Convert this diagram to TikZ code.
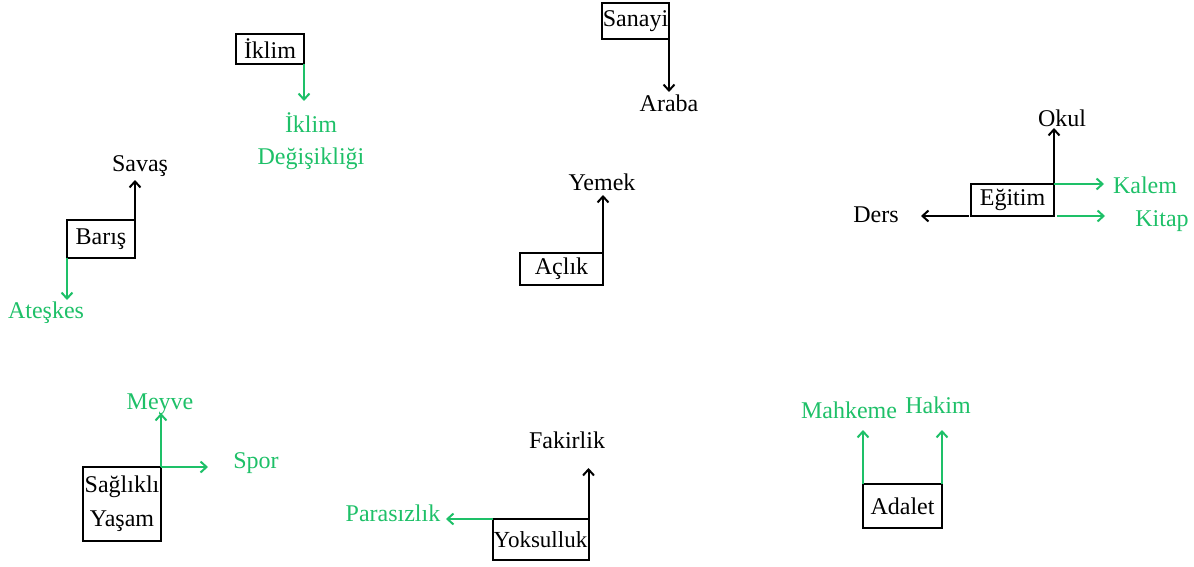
\documentclass[tikz,border=0pt]{standalone}
\usepackage{fontspec}
\setmainfont{Liberation Serif}
\usetikzlibrary{arrows.meta}
\definecolor{grn}{RGB}{30,192,104}
\begin{document}
\begin{tikzpicture}[x=0.5pt,y=-0.5pt,
  box/.style={draw=black,line width=1pt,inner sep=0pt,outer sep=0pt,font=\fontsize{12}{14}\selectfont},
  lbl/.style={inner sep=0pt,font=\fontsize{12}{14}\selectfont},
  glbl/.style={lbl,text=grn},
  blk/.style={draw=black,line width=1pt,-{Straight Barb[length=3pt,width=5.5pt,line width=1pt]}},
  gar/.style={draw=grn,line width=1pt,-{Straight Barb[length=3pt,width=5.5pt,line width=1pt]}}]
\useasboundingbox (0,0) rectangle (1194,567);
% Iklim
\node[box,minimum width=34pt,minimum height=15pt] (iklim) at (270,49) {İklim};
\coordinate (iklimE) at (304,101);
\node[glbl,align=center,font=\fontsize{12}{16}\selectfont] (iklimd) at (311,141) {İklim\\Değişikliği};
\draw[gar] (iklim.south east) -- (iklim.south east |- iklimE);
% Baris
\node[box,minimum width=34pt,minimum height=19pt] (baris) at (101,239) {Barış};
\coordinate (savasE) at (135,180);
\node[lbl] (savas) at (140,166) {Savaş};
\draw[blk] (baris.north east) -- (baris.north east |- savasE);
\coordinate (ateskesE) at (67,300);
\node[glbl] (ateskes) at (46,313) {Ateşkes};
\draw[gar] (baris.south west) -- (baris.south west |- ateskesE);
% Sanayi
\node[box,minimum width=33.5pt,minimum height=18pt] (sanayi) at (635.5,21) {Sanayi};
\coordinate (arabaE) at (669,92);
\node[lbl] (araba) at (669,103) {Araba};
\draw[blk] (sanayi.south east) -- (sanayi.south east |- arabaE);
% Aclik
\node[box,minimum width=41.5pt,minimum height=16pt] (aclik) at (561.5,269) {Açlık};
\coordinate (yemekE) at (603,195);
\node[lbl] (yemek) at (602,182) {Yemek};
\draw[blk] (aclik.north east) -- (aclik.north east |- yemekE);
% Egitim
\node[box,minimum width=41.5pt,minimum height=16pt] (egitim) at (1012.5,200) {Eğitim};
\coordinate (okulE) at (1054,128);
\node[lbl] (okul) at (1062,118) {Okul};
\draw[blk] (egitim.north east) -- (egitim.north east |- okulE);
\coordinate (kalemE) at (1104,184);
\node[glbl] (kalem) at (1145,185) {Kalem};
\draw[gar] (egitim.north east) -- (egitim.north east -| kalemE);
\coordinate (kitapS) at (1057,216);
\coordinate (kitapE) at (1105,216);
\node[glbl] (kitap) at (1162,221) {Kitap};
\draw[gar] (kitapS) -- (kitapE);
\coordinate (dersS) at (969,216);
\coordinate (dersE) at (921,216);
\node[lbl] (ders) at (876,215) {Ders};
\draw[blk] (dersS) -- (dersE);
% Saglikli Yasam
\node[box,minimum width=39pt,minimum height=37pt,align=center,font=\fontsize{12}{17}\selectfont] (saglik) at (122,504) {Sağlıklı\\Yaşam};
\coordinate (meyveE) at (161,413);
\node[glbl] (meyve) at (160,404) {Meyve};
\draw[gar] (saglik.north east) -- (saglik.north east |- meyveE);
\coordinate (sporE) at (208,467);
\node[glbl] (spor) at (256,463) {Spor};
\draw[gar] (saglik.north east) -- (saglik.north east -| sporE);
% Yoksulluk
\node[box,minimum width=48pt,minimum height=20.5pt,font=\fontsize{11.5}{14}\selectfont] (yoks) at (540.5,539.5) {Yoksulluk};
\coordinate (fakirE) at (588.5,468);
\node[lbl] (fakir) at (567,440) {Fakirlik};
\draw[blk] (yoks.north east) -- (yoks.north east |- fakirE);
\coordinate (parasE) at (446,519);
\node[glbl] (paras) at (393,513) {Parasızlık};
\draw[gar] (yoks.north west) -- (yoks.north west -| parasE);
% Adalet
\node[box,minimum width=39.5pt,minimum height=22pt] (adalet) at (902.5,506) {Adalet};
\coordinate (mahkE) at (863,430);
\node[glbl] (mahk) at (849,410) {Mahkeme};
\draw[gar] (adalet.north west) -- (adalet.north west |- mahkE);
\coordinate (hakimE) at (942,430);
\node[glbl] (hakim) at (938,405) {Hakim};
\draw[gar] (adalet.north east) -- (adalet.north east |- hakimE);
\end{tikzpicture}
\end{document}
